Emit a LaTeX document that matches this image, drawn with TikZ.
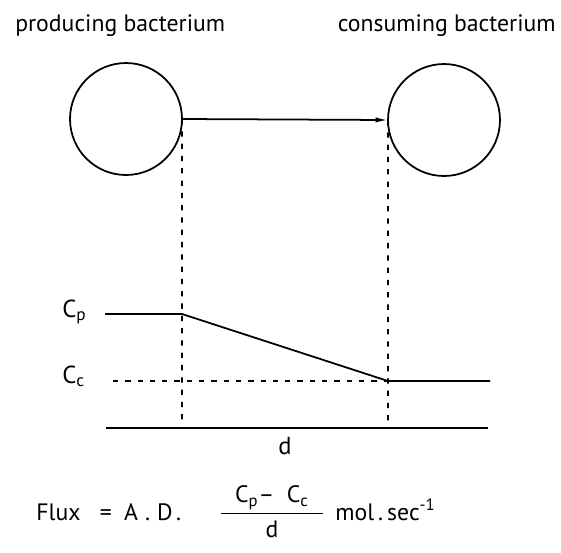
\documentclass[tikz,border=0pt]{standalone}
\usepackage{fontspec}
\setmainfont{PT Sans}
\usetikzlibrary{arrows.meta}

\begin{document}
\begin{tikzpicture}[x=0.02cm, y=-0.02cm,
    cell/.style={draw, circle, minimum size=2.24cm, inner sep=0pt, outer sep=0pt, line width=1pt},
    trace/.style={line width=1pt},
    guide/.style={line width=1pt, dash pattern=on 3pt off 4pt},
    lab/.style={inner sep=0pt, font=\fontsize{13.5}{15}\selectfont}]
\useasboundingbox (0,0) rectangle (561,552);
% the two bacteria
\node[lab, anchor=base west] (ptext) at (15,31) {producing bacterium};
\node[lab, anchor=base east] (ctext) at (556,31) {consuming bacterium};
\node[cell] (prod) at (126,119) {};
\node[cell] (cons) at (444,120) {};
\draw[trace, -{Latex[length=7pt,width=3pt]}] (prod.east) -- (cons.west);
% concentration profile
\coordinate (cpL) at (105,314);
\coordinate (cpR) at (182,314);
\coordinate (ccR) at (388,381);
\coordinate (ccE) at (490,381);
\coordinate (ccL) at (113,381);
\coordinate (baseL) at (106,428);
\coordinate (baseR) at (488,428);
\coordinate (dropL) at (182,421);
\coordinate (dropR) at (388,423);
\draw[guide] (prod.east) -- (dropL);
\draw[guide] (cons.west) -- (dropR);
\draw[guide] (ccL) -- (ccR);
\draw[trace] (cpL) -- (cpR) -- (ccR) -- (ccE);
\draw[trace] (baseL) -- (baseR);
\node[lab, font=\fontsize{14}{16}\selectfont, anchor=base west] (cp) at (62,317) {C\textsubscript{p}};
\node[lab, font=\fontsize{14}{16}\selectfont, anchor=base west] (cc) at (62,383) {C\textsubscript{c}};
\node[lab, font=\fontsize{14}{16}\selectfont, anchor=base] (dist) at (285,454) {d};
% flux
\node[lab, anchor=base west] (flux) at (36,520) {Flux\hspace{11pt}=\hspace{7pt}A\hspace{4pt}.\hspace{4pt}D\hspace{2pt}.};
\node[lab, anchor=base] (ratio) at (272,520)
  {$\displaystyle\frac{\mbox{\hspace{0.6em}C\textsubscript{p}– \ C\textsubscript{c}\hspace{0.6em}}}{\mbox{d}}$};
\node[lab, anchor=base west] (unit) at (335,520) {mol\,.\,sec\textsuperscript{-1}};
\end{tikzpicture}
\end{document}
